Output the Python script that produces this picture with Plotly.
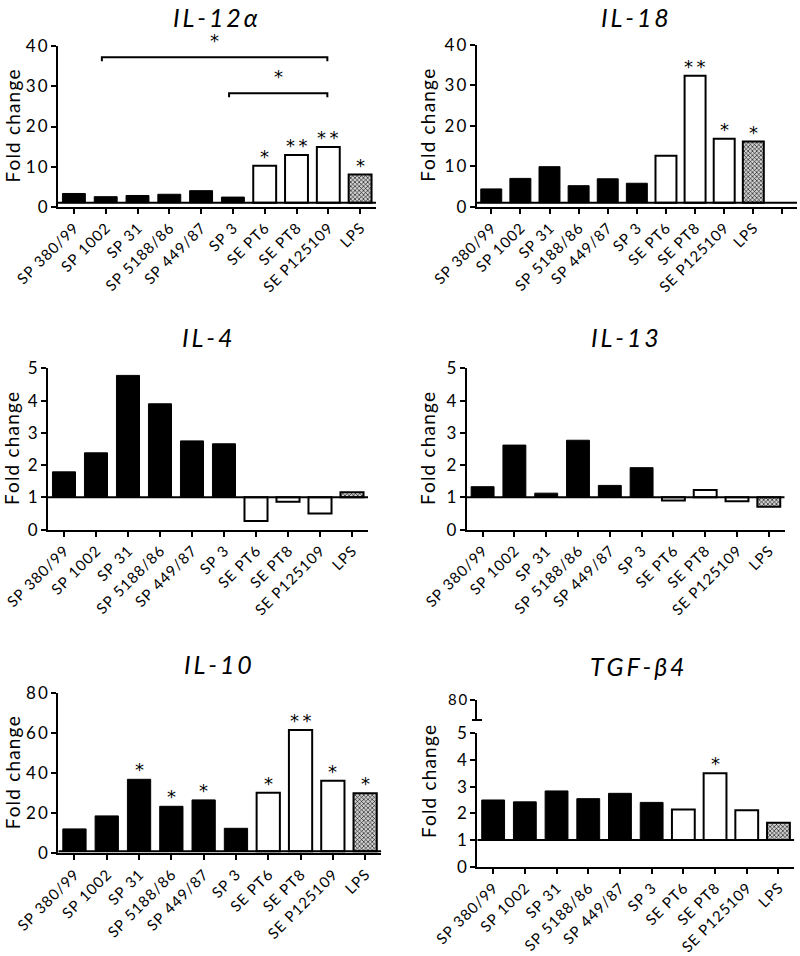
import plotly.graph_objects as go

# ---------------- data ----------------
categories = ["SP 380/99", "SP 1002", "SP 31", "SP 5188/86", "SP 449/87", "SP 3",
              "SE PT6", "SE PT8", "SE P125109", "LPS"]
groups = ["SP"] * 6 + ["SE"] * 3 + ["LPS"]

il12a = [3.3, 2.5, 2.8, 3.1, 4.0, 2.4, 10.2, 12.9, 14.9, 8.0]
il18 = [4.4, 7.0, 9.9, 5.2, 6.9, 5.8, 12.6, 32.4, 16.8, 16.1]
il4 = [1.79, 2.38, 4.78, 3.90, 2.75, 2.66, 0.27, 0.86, 0.50, 1.16]
il13 = [1.33, 2.62, 1.13, 2.77, 1.37, 1.92, 0.90, 1.23, 0.88, 0.71]
il10 = [12.2, 18.7, 37.0, 23.5, 26.7, 12.5, 30.3, 61.7, 36.3, 30.0]
tgfb4 = [2.50, 2.43, 2.84, 2.55, 2.75, 2.41, 2.14, 3.50, 2.12, 1.65]

stars_il12a = ["", "", "", "", "", "", "*", "**", "**", "*"]
stars_il18 = ["", "", "", "", "", "", "", "**", "*", "*"]
stars_il4 = [""] * 10
stars_il13 = [""] * 10
stars_il10 = ["", "", "*", "*", "*", "", "*", "**", "*", "*"]
stars_tgfb4 = ["", "", "", "", "", "", "", "*", "", ""]

titles = ["IL-12α", "IL-18", "IL-4", "IL-13", "IL-10", "TGF-β4"]
yticks_il12a = [0, 10, 20, 30, 40]
yticks_il18 = [0, 10, 20, 30, 40]
yticks_small = [0, 1, 2, 3, 4, 5]
yticks_il10 = [0, 20, 40, 60, 80]
tgf_break_tick = [80]

# IL-12α comparison brackets: (from category, to category, height, label)
brackets_il12a = [("SP 1002", "SE P125109", 37.3, "*"),
                  ("SP 3", "SE P125109", 28.3, "*")]

# ---------------- layout helpers ----------------
W, H = 800, 956
FONT = "Lato, 'Open Sans', sans-serif"
STAR_FONT = "'DejaVu Sans', sans-serif"


def spaced(s, sep="\u200a"):
    return sep.join(list(s))


def px_x(p):
    return p / W


def px_y(p):
    return 1 - p / H


panels = [
    dict(vals=il12a, stars=stars_il12a, ticks=yticks_il12a, rng=[0, 40],
         x0=58, x1=376, y0=206.7, y1=46.3, nslots=10, title_xy=(215, 17), ylab_x=12),
    dict(vals=il18, stars=stars_il18, ticks=yticks_il18, rng=[0, 40],
         x0=476.7, x1=797, y0=206.7, y1=45, nslots=11, title_xy=(635, 17), ylab_x=428),
    dict(vals=il4, stars=stars_il4, ticks=yticks_small, rng=[0, 5],
         x0=48, x1=368, y0=529.6, y1=368.3, nslots=10, title_xy=(207, 337), ylab_x=12),
    dict(vals=il13, stars=stars_il13, ticks=yticks_small, rng=[0, 5],
         x0=466.7, x1=784.7, y0=529.6, y1=368.3, nslots=10, title_xy=(625, 337), ylab_x=428),
    dict(vals=il10, stars=stars_il10, ticks=yticks_il10, rng=[0, 80],
         x0=58.3, x1=381.3, y0=853.3, y1=693.3, nslots=10, title_xy=(218, 664), ylab_x=12),
    dict(vals=tgfb4, stars=stars_tgfb4, ticks=yticks_small, rng=[0, 5],
         x0=477.3, x1=794.3, y0=866.7, y1=733.3, nslots=10, title_xy=(637, 666), ylab_x=428),
]

fill_color = {"SP": "black", "SE": "white", "LPS": "#9a9a9a"}

fig = go.Figure()
layout = dict(template="none", width=W, height=H, margin=dict(l=0, r=0, t=0, b=0, pad=0),
              paper_bgcolor="white", plot_bgcolor="white", showlegend=False,
              font=dict(family=FONT, color="black"))
annotations = []
shapes = []

idx = list(range(len(categories)))

for p, pn in enumerate(panels, start=1):
    xa = "x" if p == 1 else f"x{p}"
    ya = "y" if p == 1 else f"y{p}"
    vals = pn["vals"]
    for grp in ["SP", "SE", "LPS"]:
        xs = [i for i in idx if groups[i] == grp]
        ys = [vals[i] - 1 for i in xs]
        marker = dict(color=fill_color[grp], line=dict(color="black", width=2 if grp != "SP" else 1))
        if grp == "LPS":
            marker["pattern"] = dict(shape="x", size=3, solidity=0.35, fgcolor="black", bgcolor="#d0d0d0")
        fig.add_trace(go.Bar(x=xs, y=ys, base=[1] * len(xs), width=0.72, marker=marker,
                             xaxis=xa, yaxis=ya,
                             customdata=[vals[i] for i in xs],
                             hovertemplate="%{customdata}<extra></extra>"))
    n = pn["nslots"]
    layout[f"xaxis{'' if p == 1 else p}"] = dict(
        domain=[px_x(pn["x0"]), px_x(pn["x1"])], anchor=ya, range=[-0.5, n - 0.5],
        tickmode="array", tickvals=list(range(n)),
        ticktext=[spaced(c) for c in categories] + [""] * (n - len(categories)),
        tickangle=-45, ticks="outside", ticklen=5, tickwidth=2, tickcolor="black",
        showline=True, linewidth=2, linecolor="black", showgrid=False, zeroline=False,
        automargin=False, tickfont=dict(size=15, family=FONT, color="black"), fixedrange=True)
    layout[f"yaxis{'' if p == 1 else p}"] = dict(
        domain=[px_y(pn["y0"]), px_y(pn["y1"])], anchor=xa, range=pn["rng"],
        tickmode="array", tickvals=pn["ticks"], ticktext=[spaced(str(t), "\u2009") for t in pn["ticks"]],
        ticks="outside", ticklen=5, tickwidth=2, tickcolor="black",
        showline=True, linewidth=2, linecolor="black", showgrid=False, zeroline=False,
        automargin=False, tickfont=dict(size=17, family=FONT, color="black"), fixedrange=True)
    # baseline at fold change 1
    shapes.append(dict(type="line", xref=xa, yref=ya, x0=-0.5, x1=n - 0.5, y0=1, y1=1,
                       line=dict(color="black", width=2)))
    # stars
    for i in idx:
        if pn["stars"][i]:
            annotations.append(dict(x=i, y=max(vals[i], 1), xref=xa, yref=ya,
                                    xanchor="center", yanchor="bottom",
                                    text=spaced(pn["stars"][i], "\u2009"), showarrow=False, yshift=-3,
                                    font=dict(size=18, family=STAR_FONT, color="black")))
    # panel title
    tx, ty = pn["title_xy"]
    annotations.append(dict(x=px_x(tx), y=px_y(ty), xref="paper", yref="paper",
                            xanchor="center", yanchor="middle",
                            text="<i>" + spaced(titles[p - 1], "\u2009") + "</i>", showarrow=False,
                            font=dict(size=25, family=FONT, color="black")))
    # y label
    yc = (pn["y0"] + pn["y1"]) / 2 if p != 6 else 782
    annotations.append(dict(x=px_x(pn["ylab_x"]), y=px_y(yc), xref="paper", yref="paper",
                            xanchor="center", yanchor="middle",
                            text=spaced("Fold change"), textangle=-90, showarrow=False,
                            font=dict(size=19, family=FONT, color="black")))

# IL-12α brackets
for a, b, h, lab in brackets_il12a:
    xa0 = categories.index(a) - 0.12
    xb0 = categories.index(b) - 0.03
    shapes.append(dict(type="path", xref="x", yref="y",
                       path=f"M {xa0},{h - 1} L {xa0},{h} L {xb0},{h} L {xb0},{h - 1}",
                       line=dict(color="black", width=2)))
    annotations.append(dict(x=(xa0 + xb0) / 2, y=h + 1.0, xref="x", yref="y",
                            xanchor="center", yanchor="bottom",
                            text=lab, showarrow=False, font=dict(size=18, family=STAR_FONT, color="black")))

# TGF-β4 broken axis top segment
layout["yaxis7"] = dict(domain=[px_y(720), px_y(700)], anchor="x6", range=[76, 80],
                        tickmode="array", tickvals=tgf_break_tick,
                        ticktext=[spaced(str(t), "\u2009") for t in tgf_break_tick],
                        ticks="outside", ticklen=5, tickwidth=2, tickcolor="black",
                        showline=True, linewidth=2, linecolor="black", showgrid=False,
                        zeroline=False, automargin=False,
                        tickfont=dict(size=15, family=FONT, color="black"), fixedrange=True)
fig.add_trace(go.Scatter(x=[None], y=[None], xaxis="x6", yaxis="y7", showlegend=False))
shapes.append(dict(type="line", xref="paper", yref="paper",
                   x0=px_x(472), x1=px_x(482), y0=px_y(720), y1=px_y(720),
                   line=dict(color="black", width=2)))

layout["annotations"] = annotations
layout["shapes"] = shapes
fig.update_layout(**layout)
fig.write_html("out.html", config={"displayModeBar": False},
               post_script="document.body.style.margin='0';document.body.style.padding='0';")
